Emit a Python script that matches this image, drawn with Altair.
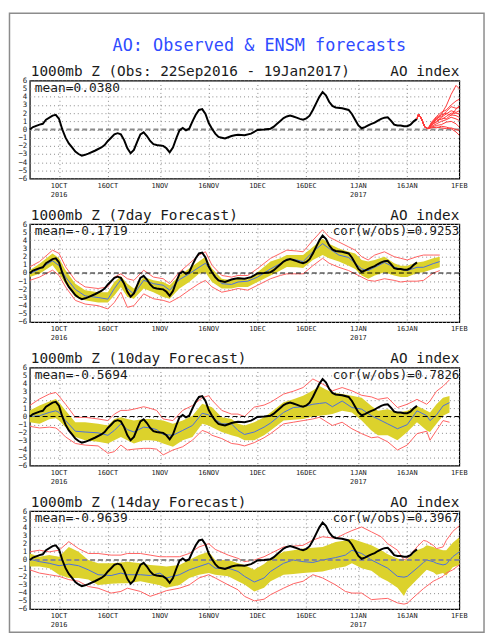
import altair as alt
import pandas as pd

# ---------------- data (day 0 = 22 Sep 2016) ----------------
TICK_DAYS = [9, 24, 40, 55, 70, 85, 101, 116, 132]
TICK_LABELS = ["1OCT", "16OCT", "1NOV", "16NOV", "1DEC", "16DEC", "1JAN", "16JAN", "1FEB"]
YEAR_DAYS = [9, 101]
YEAR_LABELS = ["2016", "2017"]

OBS_DAY = [0, 1, 3, 4, 5, 7, 8, 9, 10, 11, 12, 13, 14, 15, 16, 17, 18, 20, 22, 23,
           24, 25, 26, 27, 28, 29, 30, 31, 32, 33, 34, 35, 36, 37, 38, 39, 40, 41, 42, 43,
           44, 45, 46, 47, 48, 49, 50, 51, 52, 53, 54, 55, 56, 57, 58, 59, 60, 61, 62, 63,
           64, 66, 68, 70, 72, 74, 75, 76, 77, 78, 79, 80, 81, 82, 83, 84, 85, 86, 87, 88,
           89, 90, 91, 92, 93, 94, 96, 98, 99, 100, 101, 102, 103, 104, 105, 106, 107, 108, 109, 110,
           111, 112, 113, 114, 115, 116, 117, 118, 119]
OBS_VAL = [0.0, 0.3, 0.6, 0.7, 1.2, 1.7, 1.8, 1.3, 0.0, -1.0, -1.7, -2.2, -2.7, -3.0, -3.2, -3.1, -2.95, -2.6, -2.2, -1.9,
           -1.4, -1.0, -0.6, -0.45, -0.6, -1.3, -2.3, -2.9, -2.5, -1.5, -0.6, -0.35, -0.8, -1.4, -1.8, -1.9, -1.95, -2.0, -2.3, -2.8,
           -2.2, -1.1, -0.1, 0.2, -0.1, 0.1, 1.0, 1.8, 2.4, 2.5, 1.9, 0.8, 0.1, -0.5, -0.9, -1.0, -1.1, -0.95, -0.8, -0.7,
           -0.65, -0.7, -0.5, -0.05, 0.0, 0.1, 0.35, 0.7, 1.05, 1.4, 1.6, 1.7, 1.6, 1.45, 1.3, 1.2, 1.35, 1.7, 2.4, 3.2,
           4.0, 4.6, 4.2, 3.4, 2.9, 2.7, 2.6, 2.4, 1.9, 1.2, 0.5, 0.15, 0.3, 0.5, 0.7, 0.85, 1.1, 1.3, 1.45, 1.5,
           1.1, 0.6, 0.5, 0.5, 0.4, 0.4, 0.6, 1.0, 1.3]

# panel 1: ensemble forecast members after the last observation
ENS_PREFIX_DAY = [119, 119.5, 120.4, 121.4, 122.4]
ENS_PREFIX_VAL = [1.3, 1.9, 1.3, 0.3, 0.1]
ENS_DAY = [123.5, 125, 126.5, 128, 129.5, 131, 132]
ENS_MEMBERS = [
    [0.8, 1.2, 1.9, 2.9, 4.3, 5.4, 5.0],
    [0.9, 1.6, 2.1, 2.4, 3.0, 3.5, 3.7],
    [0.7, 1.4, 1.6, 2.2, 2.8, 2.6, 2.7],
    [0.6, 1.0, 1.5, 1.9, 2.3, 2.1, 2.3],
    [0.5, 1.3, 1.2, 1.6, 2.0, 2.0, 1.9],
    [0.6, 0.9, 1.4, 1.3, 1.8, 1.7, 1.5],
    [0.4, 0.7, 1.0, 1.2, 1.5, 1.3, 1.1],
    [0.3, 0.5, 0.6, 0.9, 1.0, 0.7, 0.3],
    [0.2, 0.3, 0.2, 0.1, 0.2, 0.0, -0.1],
    [0.3, 0.2, 0.4, 0.3, 0.1, -0.3, -0.7],
    [0.8, 1.5, 1.8, 2.0, 1.7, 2.5, 2.9],
]

# panel 2: 7-day forecast
P2_DAY = [0, 3, 7, 9, 11, 14, 17, 21, 24, 26, 28, 30, 32, 35, 38, 41, 43, 46, 49, 52,
          54, 56, 59, 62, 64, 67, 70, 74, 77, 79, 82, 84, 87, 90, 92, 95, 98, 100, 102, 104,
          106, 109, 112, 114, 116, 119, 121, 124, 126]
P2_RLO = [-0.9, -0.5, 0.35, -0.3, -1.7, -3.35, -3.8, -4.0, -4.4, -3.6, -2.35, -4.2, -4.0, -2.55, -3.15, -3.35, -3.6, -2.95, -2.1, -1.3,
          -0.9, -1.7, -2.35, -2.1, -1.9, -2.1, -1.5, -0.7, -0.3, -0.1, -0.1, -0.1, 0.9, 1.8, 1.2, 0.7, 0.3, -0.1, -0.5, -0.9,
          -1.0, -0.7, -0.9, -1.1, -1.0, -1.0, -0.9, 0.0, 0.3]
P2_YLO = [-0.5, -0.1, 0.95, -0.1, -1.3, -2.95, -3.35, -3.6, -3.6, -2.75, -1.7, -2.95, -3.15, -1.9, -2.35, -2.95, -3.15, -1.9, -1.1, -0.1,
          0.1, -1.1, -1.9, -1.9, -1.7, -1.7, -1.1, -0.3, 0.3, 0.75, 0.7, 0.6, 1.6, 2.2, 1.8, 1.4, 0.9, 0.5, -0.3, -0.7,
          -0.3, 0.1, -0.3, -0.5, -0.5, 0.0, 0.1, 0.5, 0.7]
P2_MEAN = [-0.1, 0.5, 1.5, 0.9, -0.5, -2.0, -2.8, -3.0, -3.2, -1.9, -0.8, -1.9, -2.6, -0.9, -1.3, -1.5, -2.1, -0.8, -0.1, 0.7,
           1.2, 0.1, -1.3, -1.4, -1.1, -1.0, -0.5, 0.5, 1.15, 1.7, 1.6, 1.4, 2.6, 3.6, 3.0, 2.2, 1.9, 1.2, 0.5, 0.3,
           0.7, 1.3, 0.7, 0.5, 0.3, 0.7, 0.7, 1.15, 1.4]
P2_YHI = [0.35, 1.15, 2.4, 1.8, 0.35, -1.3, -2.1, -2.35, -2.35, -1.1, -0.4, -1.3, -1.9, -0.5, -0.9, -1.1, -1.5, -0.3, 0.55, 1.4,
          2.0, 0.55, -0.7, -0.9, -0.5, -0.8, 0.1, 1.4, 1.8, 2.2, 2.2, 2.2, 3.2, 4.2, 3.6, 3.0, 2.6, 2.4, 1.6, 1.4,
          1.6, 2.0, 1.2, 0.9, 0.9, 1.3, 1.4, 1.8, 2.0]
P2_RHI = [0.75, 1.4, 2.8, 2.4, 0.75, -0.9, -1.7, -1.9, -1.7, -0.5, -0.1, -0.7, -0.9, 0.35, -0.5, -0.7, -1.3, 0.1, 1.15, 2.2,
          2.6, 0.95, -0.3, -0.5, -0.3, -0.3, 0.55, 1.8, 2.4, 2.8, 2.7, 2.6, 4.0, 5.3, 4.4, 3.8, 3.2, 2.8, 2.0, 1.6,
          2.2, 2.6, 2.0, 1.8, 1.6, 2.0, 2.2, 2.2, 2.2]

# panel 3: 10-day forecast
P3_DAY = [0, 3, 6, 8, 9, 11, 14, 17, 21, 24, 26, 28, 30, 32, 35, 37, 39, 41, 44, 47,
          50, 53, 55, 56, 59, 62, 64, 66, 69, 72, 74, 78, 81, 84, 87, 89, 91, 93, 96, 99,
          102, 105, 107, 110, 113, 116, 119, 122, 123, 125, 127, 129]
P3_RLO = [-1.2, -1.4, -1.3, -1.4, -1.7, -2.5, -3.3, -3.5, -3.6, -4.5, -4.3, -3.5, -4.1, -4.0, -3.9, -3.9, -4.0, -4.7, -4.1, -3.7,
          -2.9, -1.7, -2.0, -2.3, -2.7, -3.3, -3.4, -3.6, -3.2, -2.6, -2.1, -0.9, -0.7, -0.5, -0.3, -0.1, -0.6, -1.1, -0.7, -1.5,
          -2.1, -2.6, -2.5, -3.1, -4.1, -3.5, -2.1, -1.8, -2.9, -1.7, -0.5, -0.7]
P3_YLO = [-0.7, -0.9, -0.35, -0.2, -0.5, -1.3, -2.5, -2.9, -3.1, -3.3, -2.9, -2.5, -2.9, -3.3, -2.9, -2.9, -3.0, -3.3, -3.7, -2.9,
          -2.5, -0.9, -1.1, -1.3, -1.9, -2.3, -2.5, -2.9, -2.9, -2.3, -1.7, -0.5, -0.4, -0.3, 0.0, 0.1, 0.2, 0.3, 0.7, 0.5,
          -0.5, -1.7, -2.3, -2.3, -2.9, -1.9, -0.7, -1.7, -1.9, -0.9, 0.1, 0.5]
P3_MEAN = [0.0, 0.1, 0.5, 0.7, 0.5, -0.5, -1.8, -1.9, -2.0, -2.3, -1.7, -0.9, -1.6, -1.9, -1.3, -1.4, -1.6, -2.2, -2.3, -1.7,
           -1.1, 0.4, 0.2, -0.1, -0.9, -0.9, -1.7, -2.2, -1.9, -1.3, -0.8, 0.5, 1.1, 1.2, 1.5, 1.6, 1.7, 1.2, 1.9, 1.1,
           0.9, 0.1, -0.3, -0.9, -1.5, -1.0, 0.7, 0.1, -0.5, 0.2, 1.3, 1.7]
P3_YHI = [0.75, 1.35, 1.85, 2.15, 1.75, 0.75, -0.7, -0.7, -0.9, -1.1, -0.3, -0.1, -0.3, -0.5, -0.3, -0.3, -0.4, -0.5, -0.9, -0.5,
          0.1, 1.55, 1.3, 1.15, -0.1, -0.3, -0.9, -1.1, -0.7, -0.1, 0.5, 1.75, 2.1, 2.55, 3.2, 3.75, 3.3, 2.95, 2.75, 2.55,
          2.3, 1.3, 0.7, 0.9, 0.5, 0.7, 1.3, 0.7, 0.5, 1.5, 2.3, 2.5]
P3_RHI = [1.35, 2.15, 2.75, 2.95, 2.5, 1.5, -0.1, -0.1, -0.3, -0.5, 0.3, 0.75, 0.75, 0.9, 1.2, 1.0, 0.75, -0.3, -0.5, 0.75,
          1.35, 2.3, 2.55, 2.0, 0.75, 0.3, 0.3, 0.0, 1.15, 1.4, 1.75, 2.75, 3.1, 3.55, 4.6, 4.2, 3.75, 3.15, 3.55, 3.15,
          2.6, 2.4, 2.1, 2.3, 1.1, 1.5, 2.1, 1.5, 1.9, 3.1, 3.7, 4.5]

# panel 4: 14-day forecast
P4_DAY = [0, 3, 6, 9, 12, 15, 18, 21, 25, 28, 30, 34, 37, 40, 42, 46, 49, 52, 55, 57,
          61, 64, 66, 69, 72, 74, 78, 81, 84, 87, 90, 94, 97, 99, 102, 105, 108, 110, 113, 115,
          116, 119, 121, 122, 124, 125, 127, 128, 130, 132]
P4_RLO = [-1.2, -1.6, -1.8, -2.0, -2.4, -2.6, -3.25, -3.45, -4.05, -3.85, -3.45, -3.85, -4.45, -4.05, -3.75, -3.45, -3.05, -2.2, -1.8, -2.2,
          -3.05, -3.65, -4.45, -5.0, -4.8, -4.25, -3.45, -2.9, -2.6, -1.8, -2.2, -3.05, -3.85, -4.05, -4.05, -4.85, -4.75, -4.7, -5.25, -5.4,
          -5.3, -4.2, -3.5, -3.2, -2.6, -2.4, -2.0, -1.6, -1.2, -0.6]
P4_YLO = [-0.8, -0.8, -1.0, -1.8, -2.2, -2.2, -2.4, -3.05, -2.9, -2.85, -2.85, -2.6, -2.85, -3.1, -3.4, -3.05, -2.2, -1.8, -1.6, -1.8,
          -2.0, -2.6, -3.0, -3.85, -3.4, -2.6, -1.8, -1.7, -1.6, -1.5, -1.4, -1.0, -0.8, -0.4, -1.0, -1.3, -2.2, -2.6, -3.4, -4.4,
          -3.6, -2.4, -1.6, -1.2, -1.5, -1.8, -1.6, -1.9, -0.9, -0.6]
P4_MEAN = [0.1, -0.2, -0.4, -0.7, -0.5, -0.7, -1.2, -1.8, -1.9, -1.6, -1.8, -1.8, -1.9, -1.6, -2.2, -1.8, -1.2, -0.8, -0.4, -1.0,
           -1.0, -1.4, -2.0, -2.7, -2.2, -1.4, -0.4, 0.0, -0.2, -0.3, 0.0, 0.3, 0.6, 1.2, 0.8, 0.0, -0.6, -1.0, -2.0, -2.1,
           -2.0, -1.0, -0.3, 0.0, -0.2, -0.4, -0.6, -0.5, 0.4, 1.0]
P4_YHI = [0.8, 0.4, 0.6, 0.4, 1.6, 1.0, 0.0, -0.4, -0.4, -0.3, -0.2, -0.4, -0.6, -0.7, -0.8, -0.6, 0.0, 0.6, 1.0, 0.0,
          0.0, -0.4, -0.6, -1.2, -0.5, 0.2, 1.0, 1.2, 1.4, 1.5, 1.6, 2.2, 2.4, 2.6, 2.2, 1.8, 1.2, 0.7, 0.2, -0.1,
          0.1, 1.2, 1.5, 1.8, 1.6, 1.4, 1.2, 1.2, 2.1, 2.8]
P4_RHI = [1.0, 1.2, 1.0, 1.2, 2.25, 1.4, 0.8, 0.8, 0.6, 0.6, 0.8, 0.8, 0.6, 0.4, 0.4, 0.4, 0.8, 1.6, 2.0, 1.3,
          0.6, 0.2, -0.2, 0.0, 0.4, 0.8, 1.6, 1.7, 1.8, 2.45, 2.85, 2.65, 3.25, 3.6, 4.05, 3.45, 2.85, 2.0, 1.2, 0.0,
          0.2, 1.6, 2.4, 2.3, 1.8, 1.4, 1.6, 2.4, 3.5, 4.2]

MAIN_TITLE = "AO: Observed & ENSM forecasts"
HEADERS = ["1000mb Z (Obs: 22Sep2016 - 19Jan2017)", "1000mb Z (7day Forecast)",
           "1000mb Z (10day Forecast)", "1000mb Z (14day Forecast)"]
MEANS = ["mean=0.0380", "mean=-0.1719", "mean=-0.5694", "mean=-0.9639"]
CORS = ["", "cor(w/obs)=0.9253", "cor(w/obs)=0.7826", "cor(w/obs)=0.3967"]

# ---------------- styling ----------------
W, H = 434, 99
FONT = "DejaVu Sans Mono"
TXT = "#1a1a1a"
YELLOW = "#dcd22c"
RED = "#ff6262"
BLUE = "#4a6ee0"

xs = alt.Scale(domain=[0, 132], nice=False, zero=False)
ys = alt.Scale(domain=[-6, 6], nice=False, zero=False)
x_axis = alt.Axis(values=TICK_DAYS, labels=False, ticks=False, domain=False, grid=True,
                  gridDash=[1, 3], gridColor="#8a8a8a", gridWidth=1, title=None)
y_axis = alt.Axis(values=list(range(-6, 7)), labelFontSize=7.5, labelFont=FONT, labelColor=TXT,
                  ticks=False, domain=False, grid=True, gridDash=[1, 3], gridColor="#8a8a8a",
                  gridWidth=1, labelPadding=3, labelOverlap=False, labelFlush=False, title=None)

X = alt.X("d:Q", scale=xs, axis=x_axis, title=None)


def Yf(field):
    return alt.Y(field + ":Q", scale=ys, axis=y_axis, title=None)


def one(text):
    return pd.DataFrame({"t": [text]})


def common_layers(idx):
    layers = []
    layers.append(alt.Chart(one(HEADERS[idx])).mark_text(
        font=FONT, fontSize=14.5, align="left", baseline="alphabetic", color=TXT
    ).encode(x=alt.value(1), y=alt.value(-4.5), text="t:N"))
    layers.append(alt.Chart(one("AO index")).mark_text(
        font=FONT, fontSize=14.5, align="right", baseline="alphabetic", color=TXT
    ).encode(x=alt.value(W), y=alt.value(-4.5), text="t:N"))
    layers.append(alt.Chart(one(MEANS[idx])).mark_text(
        font=FONT, fontSize=13, align="left", baseline="alphabetic", color=TXT
    ).encode(x=alt.value(5), y=alt.value(11.5), text="t:N"))
    if CORS[idx]:
        layers.append(alt.Chart(one(CORS[idx])).mark_text(
            font=FONT, fontSize=12.5, align="right", baseline="alphabetic", color=TXT
        ).encode(x=alt.value(W), y=alt.value(11.5), text="t:N"))
    ticks = pd.DataFrame({"d": TICK_DAYS, "lab": TICK_LABELS})
    layers.append(alt.Chart(ticks).mark_text(
        font=FONT, fontSize=7, align="center", baseline="alphabetic", color=TXT
    ).encode(x=X, y=alt.value(H + 9.5), text="lab:N"))
    years = pd.DataFrame({"d": YEAR_DAYS, "lab": YEAR_LABELS})
    layers.append(alt.Chart(years).mark_text(
        font=FONT, fontSize=7, align="center", baseline="alphabetic", color=TXT
    ).encode(x=X, y=alt.value(H + 18.5), text="lab:N"))
    return layers


obs_df = pd.DataFrame({"d": OBS_DAY, "v": OBS_VAL})


def obs_layer():
    return alt.Chart(obs_df).mark_line(color="black", strokeWidth=2).encode(x=X, y=Yf("v"))


def zero_layer(color, width):
    return alt.Chart(pd.DataFrame({"z": [0]})).mark_rule(
        color=color, strokeDash=[5, 3], strokeWidth=width).encode(y=Yf("z"))


# ---------------- panel 1 ----------------
rows = []
for m, vals in enumerate(ENS_MEMBERS):
    for d, v in zip(ENS_PREFIX_DAY + ENS_DAY, ENS_PREFIX_VAL + vals):
        rows.append({"m": m, "d": d, "v": v})
ens_df = pd.DataFrame(rows)

ens = alt.Chart(ens_df).mark_line(color="#ff3a3a", strokeWidth=1).encode(
    x=X, y=Yf("v"), detail="m:N")

border = alt.Chart(one("")).mark_rect(
    fill="white", fillOpacity=0, stroke="#8c8c8c", strokeWidth=1.5
).encode(x=alt.value(-20.5), y=alt.value(-68), x2=alt.value(459), y2=alt.value(557.5))

title = alt.Chart(one(MAIN_TITLE)).mark_text(
    font=FONT, fontSize=17, align="center", baseline="alphabetic", color="#2f4bff"
).encode(x=alt.value(232), y=alt.value(-29.5), text="t:N")

p1 = alt.layer(border, zero_layer("#8a8a8a", 2), obs_layer(), ens, title,
               *common_layers(0)).properties(width=W, height=H)


def fc_panel(idx, days, rlo, ylo, mn, yhi, rhi, zc, zw):
    df = pd.DataFrame({"d": days, "rlo": rlo, "ylo": ylo, "mn": mn, "yhi": yhi, "rhi": rhi})
    band = alt.Chart(df).mark_area(color=YELLOW, opacity=1).encode(
        x=X, y=Yf("ylo"), y2=alt.Y2("yhi:Q"))
    rl = alt.Chart(df).mark_line(color=RED, strokeWidth=1).encode(x=X, y=Yf("rlo"))
    rh = alt.Chart(df).mark_line(color=RED, strokeWidth=1).encode(x=X, y=Yf("rhi"))
    ml = alt.Chart(df).mark_line(color=BLUE, strokeWidth=1).encode(x=X, y=Yf("mn"))
    return alt.layer(band, rl, rh, ml, zero_layer(zc, zw), obs_layer(),
                     *common_layers(idx)).properties(width=W, height=H)


p2 = fc_panel(1, P2_DAY, P2_RLO, P2_YLO, P2_MEAN, P2_YHI, P2_RHI, "black", 1)
p3 = fc_panel(2, P3_DAY, P3_RLO, P3_YLO, P3_MEAN, P3_YHI, P3_RHI, "black", 1)
p4 = fc_panel(3, P4_DAY, P4_RLO, P4_YLO, P4_MEAN, P4_YHI, P4_RHI, "#8a8a8a", 2)

chart = alt.vconcat(p1, p2, p3, p4, spacing=46, bounds="flush").properties(
    padding=0, background="white"
).configure_view(stroke="black", strokeWidth=1.2)

chart.save("out.html", embed_options={"renderer": "svg", "actions": False})
